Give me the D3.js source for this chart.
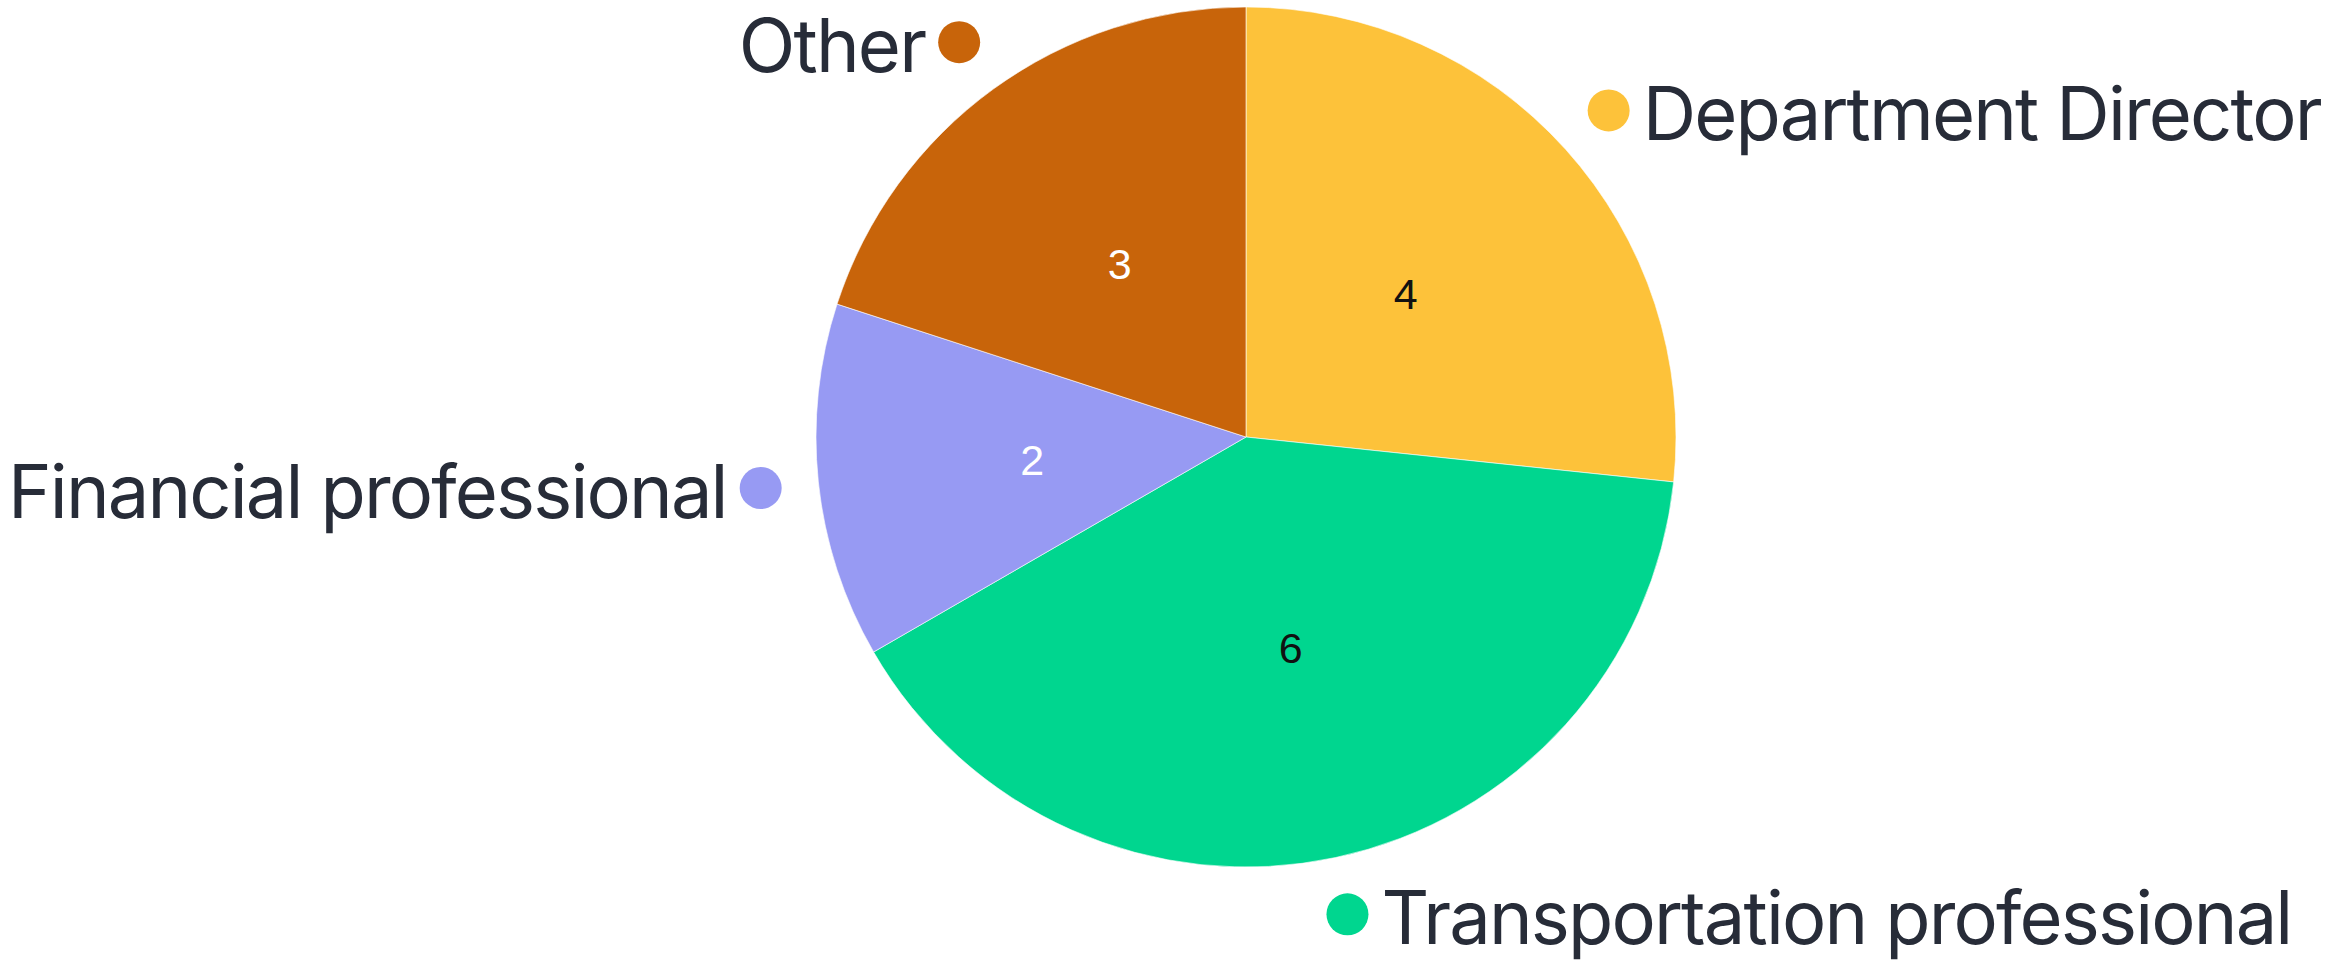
<!DOCTYPE html>
<html>
<head>
<meta charset="utf-8">
<script src="https://cdn.jsdelivr.net/npm/d3@7"></script>
<style>
  html, body { margin: 0; padding: 0; background: #fff; }
  svg { display: block; }
</style>
</head>
<body>
<div id="chart"></div>
<script>
var categories = ['Department Director', 'Transportation professional', 'Financial professional', 'Other'];
var counts = [4, 6, 2, 3];
var sliceColors = ['#FDC23A', '#00D68F', '#979AF3', '#C8640A'];
var valueColors = ['#111', '#111', '#fff', '#fff'];

var width = 2340, height = 961;
var cx = 1246, cy = 437, radius = 430;
var labelRadius = 488;

var svg = d3.select('#chart').append('svg')
    .attr('width', width)
    .attr('height', height);

var data = categories.map(function (c, i) { return { name: c, value: counts[i], i: i }; });

var pie = d3.pie().sort(null).value(function (d) { return d.value; });
var arc = d3.arc().innerRadius(0).outerRadius(radius);
var arcs = pie(data);

var g = svg.append('g').attr('transform', 'translate(' + cx + ',' + cy + ')');

g.selectAll('path.slice')
    .data(arcs)
    .enter().append('path')
    .attr('class', 'slice')
    .attr('d', arc)
    .attr('fill', function (d) { return sliceColors[d.data.i]; })
    .attr('stroke', '#fff')
    .attr('stroke-width', 0.6);

g.selectAll('text.value')
    .data(arcs)
    .enter().append('text')
    .attr('class', 'value')
    .attr('transform', function (d) { return 'translate(' + arc.centroid(d) + ')'; })
    .attr('text-anchor', 'middle')
    .attr('dy', '0.36em')
    .attr('font-family', 'Liberation Sans, Arial, sans-serif')
    .attr('font-size', 43)
    .attr('fill', function (d) { return valueColors[d.data.i]; })
    .text(function (d) { return d.data.value; });

// outer labels: dot on mid angle, text to the side
var labelFont = 'Inter, Lato, sans-serif';
var labels = g.selectAll('g.label')
    .data(arcs)
    .enter().append('g')
    .attr('class', 'label')
    .attr('transform', function (d) {
        var a = (d.startAngle + d.endAngle) / 2;
        return 'translate(' + (labelRadius * Math.sin(a)) + ',' + (-labelRadius * Math.cos(a)) + ')';
    });

labels.append('circle')
    .attr('r', 21)
    .attr('fill', function (d) { return sliceColors[d.data.i]; });

labels.append('text')
    .attr('x', function (d) {
        var a = (d.startAngle + d.endAngle) / 2;
        return a < Math.PI ? 34 : -34;
    })
    .attr('y', 0)
    .attr('dy', '0.40em')
    .attr('text-anchor', function (d) {
        var a = (d.startAngle + d.endAngle) / 2;
        return a < Math.PI ? 'start' : 'end';
    })
    .attr('font-family', labelFont)
    .attr('font-size', 100)
    .attr('letter-spacing', '-0.025em')
    .attr('fill', '#272C38')
    .text(function (d) { return d.data.name; });

// size the outer labels to the widths seen in the picture (DD, TP, FP)
var targets = [682, 908, 715];
var ratio = 0;
labels.selectAll('text').each(function (d) {
    if (d.data.i < 3) ratio += targets[d.data.i] / this.getComputedTextLength();
});
var fs = Math.round(100 * ratio / 3);
labels.selectAll('text').attr('font-size', fs);
</script>
</body>
</html>
